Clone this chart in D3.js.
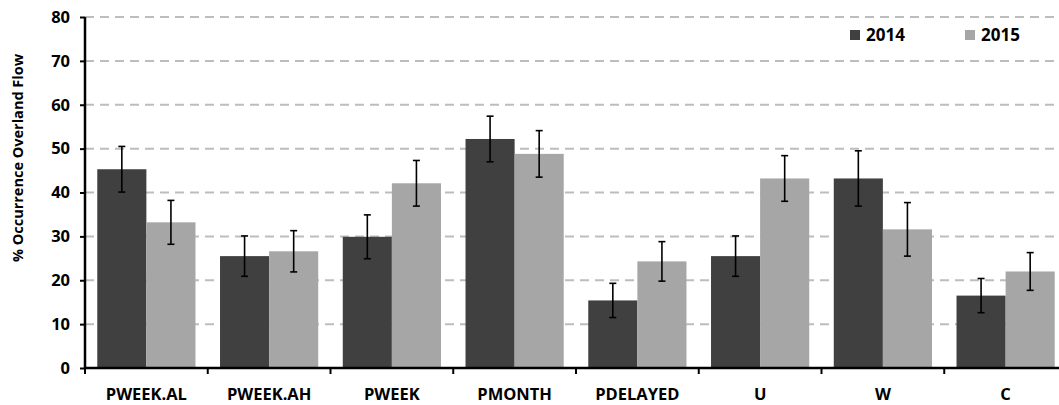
<!DOCTYPE html>
<html>
<head>
<meta charset="utf-8">
<script src="https://cdn.jsdelivr.net/npm/d3@7"></script>
<style>
  html, body { margin: 0; padding: 0; background: #fff; }
  svg { display: block; font-family: "Open Sans", "DejaVu Sans", sans-serif; }
</style>
</head>
<body>
<svg id="chart" width="1059" height="405"></svg>
<script>
// Categories, series and tick labels
const categories = ["PWEEK.AL", "PWEEK.AH", "PWEEK", "PMONTH", "PDELAYED", "U", "W", "C"];
const seriesNames = ["2014", "2015"];
const values2014 = [45.3, 25.5, 29.9, 52.2, 15.4, 25.5, 43.2, 16.5];
const values2015 = [33.2, 26.6, 42.1, 48.8, 24.3, 43.2, 31.6, 22.0];
const errors2014 = [5.2, 4.6, 5.0, 5.2, 3.9, 4.6, 6.3, 3.9];
const errors2015 = [5.0, 4.7, 5.2, 5.3, 4.5, 5.2, 6.1, 4.3];
const yTicks = [0, 10, 20, 30, 40, 50, 60, 70, 80];
const colors = ["#404040", "#a6a6a6"];

const svg = d3.select("#chart");
const plotLeft = 85, plotRight = 1067, plotTop = 17, plotBottom = 368;

const x0 = d3.scaleBand().domain(categories).range([plotLeft, plotRight]).paddingInner(0.2).paddingOuter(0.1);
const x1 = d3.scaleBand().domain(seriesNames).range([0, x0.bandwidth()]);
const y = d3.scaleLinear().domain([0, 80]).range([plotBottom, plotTop]);

// Dashed horizontal gridlines
svg.append("g").selectAll("line").data(yTicks.filter(d => d > 0)).join("line")
  .attr("x1", plotLeft).attr("x2", 1059)
  .attr("y1", d => y(d)).attr("y2", d => y(d))
  .attr("stroke", "#bdbdbd").attr("stroke-width", 2)
  .attr("stroke-dasharray", "9,6");

// Bars
const rows = categories.map((c, i) => ({
  cat: c,
  items: [
    { s: "2014", v: values2014[i], e: errors2014[i] },
    { s: "2015", v: values2015[i], e: errors2015[i] }
  ]
}));

const groups = svg.append("g").selectAll("g").data(rows).join("g")
  .attr("transform", d => `translate(${x0(d.cat)},0)`);

groups.selectAll("rect").data(d => d.items).join("rect")
  .attr("x", d => x1(d.s))
  .attr("width", x1.bandwidth())
  .attr("y", d => y(d.v))
  .attr("height", d => y(0) - y(d.v))
  .attr("fill", (d, i) => colors[i]);

// Error bars
const eb = groups.selectAll("g.err").data(d => d.items).join("g").attr("class", "err")
  .attr("transform", d => `translate(${x1(d.s) + x1.bandwidth() / 2},0)`);
eb.append("line").attr("x1", 0).attr("x2", 0)
  .attr("y1", d => y(d.v + d.e)).attr("y2", d => y(d.v - d.e))
  .attr("stroke", "#000").attr("stroke-width", 1.6);
eb.append("line").attr("x1", -3.5).attr("x2", 3.5)
  .attr("y1", d => y(d.v + d.e)).attr("y2", d => y(d.v + d.e))
  .attr("stroke", "#000").attr("stroke-width", 1.6);
eb.append("line").attr("x1", -3.5).attr("x2", 3.5)
  .attr("y1", d => y(d.v - d.e)).attr("y2", d => y(d.v - d.e))
  .attr("stroke", "#000").attr("stroke-width", 1.6);

// Y axis
const yAxis = svg.append("g").attr("transform", `translate(${plotLeft},0)`)
  .call(d3.axisLeft(y).tickValues(yTicks).tickSize(5).tickPadding(10));
yAxis.select(".domain").attr("stroke", "#000").attr("stroke-width", 2.5)
  .attr("d", `M0,${plotTop}V${plotBottom}`);
yAxis.selectAll(".tick line").attr("stroke", "#000").attr("stroke-width", 2);
yAxis.selectAll(".tick text").attr("font-size", 16.5).attr("font-weight", "bold")
  .attr("fill", "#000").attr("font-family", "Open Sans, sans-serif");

// X axis with ticks at category boundaries
const xAxis = svg.append("g").attr("transform", `translate(0,${plotBottom})`);
xAxis.append("line").attr("x1", plotLeft).attr("x2", 1059).attr("y1", 0).attr("y2", 0)
  .attr("stroke", "#000").attr("stroke-width", 2.5);
const step = x0.step();
const boundaries = d3.range(categories.length).map(i => x0(categories[i]) - x0.paddingOuter() * step);
xAxis.selectAll("line.tk").data(boundaries).join("line").attr("class", "tk")
  .attr("x1", d => d).attr("x2", d => d).attr("y1", 0).attr("y2", 6)
  .attr("stroke", "#000").attr("stroke-width", 2);
xAxis.selectAll("text").data(categories).join("text")
  .attr("x", d => x0(d) + x0.bandwidth() / 2)
  .attr("y", 32)
  .attr("text-anchor", "middle")
  .attr("font-size", 16.5).attr("font-weight", "bold").attr("fill", "#000")
  .text(d => d);

// Y axis title
svg.append("text")
  .attr("transform", "translate(23,158) rotate(-90)")
  .attr("text-anchor", "middle")
  .attr("font-size", 14.5).attr("font-weight", "bold").attr("fill", "#000")
  .text("% Occurrence Overland Flow");

// Legend
const legend = svg.append("g").selectAll("g").data(seriesNames).join("g")
  .attr("transform", (d, i) => `translate(${850 + i * 115},30)`);
legend.append("rect").attr("width", 10).attr("height", 10).attr("fill", (d, i) => colors[i]);
legend.append("text").attr("x", 16).attr("y", 11)
  .attr("font-size", 17).attr("font-weight", "bold").attr("fill", "#000")
  .text(d => d);
</script>
</body>
</html>
